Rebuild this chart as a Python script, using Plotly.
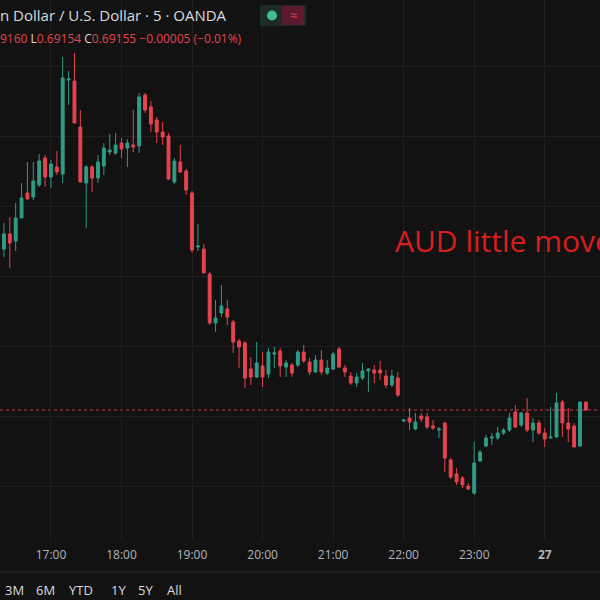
import pandas as pd
import plotly.graph_objects as go

# 5-minute AUD/USD candles, 16:15 -> 00:45
opens = [0.69398, 0.69316, 0.69331, 0.69324, 0.69347, 0.69372, 0.69368, 0.69380, 0.69407, 0.69388,
         0.69398, 0.69391, 0.69485, 0.69484, 0.69438, 0.69382, 0.69398, 0.69387, 0.69399, 0.69413,
         0.69412, 0.69422, 0.69417, 0.69420, 0.69419, 0.69470, 0.69458, 0.69445, 0.69433, 0.69429,
         0.69383, 0.69403, 0.69394, 0.69372, 0.69318, 0.69316, 0.69291, 0.69242, 0.69252, 0.69256,
         0.69243, 0.69224, 0.69222, 0.69196, 0.69188, 0.69199, 0.69191, 0.69211, 0.69214, 0.69198,
         0.69200, 0.69200, 0.69213, 0.69203, 0.69193, 0.69205, 0.69192, 0.69196, 0.69216, 0.69197,
         0.69189, 0.69182, 0.69187, 0.69194, 0.69195, 0.69195, 0.69189, 0.69180, 0.69187, 0.69144,
         0.69147, 0.69136, 0.69149, 0.69148, 0.69139, 0.69135, 0.69142, 0.69105, 0.69091, 0.69087,
         0.69079, 0.69072, 0.69104, 0.69119, 0.69127, 0.69127, 0.69132, 0.69135, 0.69153, 0.69140,
         0.69152, 0.69135, 0.69142, 0.69132, 0.69127, 0.69128, 0.69163, 0.69142, 0.69139, 0.69119,
         0.69163]
highs = [0.69400, 0.69342, 0.69348, 0.69362, 0.69382, 0.69403, 0.69403, 0.69411, 0.69410, 0.69405,
         0.69414, 0.69508, 0.69494, 0.69512, 0.69455, 0.69400, 0.69400, 0.69410, 0.69422, 0.69431,
         0.69432, 0.69427, 0.69426, 0.69455, 0.69472, 0.69472, 0.69464, 0.69448, 0.69443, 0.69432,
         0.69407, 0.69420, 0.69396, 0.69374, 0.69341, 0.69321, 0.69293, 0.69265, 0.69280, 0.69265,
         0.69245, 0.69226, 0.69224, 0.69208, 0.69223, 0.69213, 0.69217, 0.69218, 0.69217, 0.69205,
         0.69202, 0.69215, 0.69220, 0.69207, 0.69210, 0.69215, 0.69205, 0.69213, 0.69218, 0.69200,
         0.69193, 0.69192, 0.69202, 0.69197, 0.69200, 0.69204, 0.69195, 0.69195, 0.69193, 0.69146,
         0.69157, 0.69152, 0.69152, 0.69152, 0.69145, 0.69138, 0.69143, 0.69107, 0.69097, 0.69089,
         0.69082, 0.69123, 0.69115, 0.69130, 0.69132, 0.69138, 0.69137, 0.69152, 0.69160, 0.69153,
         0.69167, 0.69147, 0.69145, 0.69137, 0.69158, 0.69172, 0.69165, 0.69157, 0.69142, 0.69163,
         0.69163]
lows = [0.69310, 0.69308, 0.69297, 0.69314, 0.69347, 0.69366, 0.69365, 0.69378, 0.69378, 0.69377,
        0.69390, 0.69382, 0.69460, 0.69442, 0.69383, 0.69337, 0.69373, 0.69382, 0.69390, 0.69410,
        0.69410, 0.69407, 0.69398, 0.69413, 0.69412, 0.69452, 0.69433, 0.69422, 0.69420, 0.69385,
        0.69381, 0.69392, 0.69370, 0.69312, 0.69314, 0.69292, 0.69240, 0.69233, 0.69248, 0.69240,
        0.69212, 0.69197, 0.69177, 0.69180, 0.69187, 0.69178, 0.69187, 0.69197, 0.69188, 0.69188,
        0.69188, 0.69198, 0.69202, 0.69190, 0.69192, 0.69190, 0.69190, 0.69195, 0.69197, 0.69188,
        0.69180, 0.69178, 0.69185, 0.69173, 0.69182, 0.69185, 0.69177, 0.69178, 0.69168, 0.69143,
        0.69135, 0.69135, 0.69143, 0.69136, 0.69135, 0.69127, 0.69093, 0.69086, 0.69080, 0.69077,
        0.69075, 0.69070, 0.69103, 0.69118, 0.69120, 0.69125, 0.69130, 0.69133, 0.69137, 0.69138,
        0.69133, 0.69123, 0.69130, 0.69118, 0.69127, 0.69127, 0.69128, 0.69123, 0.69118, 0.69118,
        0.69154]
closes = [0.69315, 0.69331, 0.69322, 0.69347, 0.69367, 0.69366, 0.69384, 0.69404, 0.69388, 0.69401,
          0.69393, 0.69487, 0.69486, 0.69442, 0.69383, 0.69398, 0.69387, 0.69403, 0.69417, 0.69415,
          0.69420, 0.69416, 0.69422, 0.69418, 0.69468, 0.69455, 0.69441, 0.69433, 0.69428, 0.69386,
          0.69404, 0.69393, 0.69375, 0.69315, 0.69319, 0.69292, 0.69242, 0.69247, 0.69259, 0.69248,
          0.69223, 0.69218, 0.69187, 0.69188, 0.69202, 0.69188, 0.69213, 0.69212, 0.69199, 0.69202,
          0.69192, 0.69213, 0.69204, 0.69193, 0.69205, 0.69193, 0.69197, 0.69211, 0.69198, 0.69193,
          0.69182, 0.69188, 0.69194, 0.69196, 0.69192, 0.69192, 0.69180, 0.69189, 0.69170, 0.69145,
          0.69143, 0.69143, 0.69146, 0.69138, 0.69137, 0.69136, 0.69107, 0.69088, 0.69083, 0.69080,
          0.69076, 0.69102, 0.69113, 0.69127, 0.69128, 0.69132, 0.69135, 0.69147, 0.69138, 0.69152,
          0.69135, 0.69142, 0.69132, 0.69126, 0.69128, 0.69162, 0.69142, 0.69136, 0.69118, 0.69163,
          0.69155]

times = pd.date_range("2023-06-26 16:15", periods=len(opens), freq="5min")
hour_ticks = pd.date_range("2023-06-26 17:00", "2023-06-27 01:00", freq="1h")
hour_labels = ["17:00", "18:00", "19:00", "20:00", "21:00", "22:00", "23:00", "<b>27</b>", "01:00"]
last_close = closes[-1]

BG = "#121212"
UP = "#2f9c86"
DOWN = "#e5444f"

fig = go.Figure()
fig.add_trace(go.Candlestick(
    x=times, open=opens, high=highs, low=lows, close=closes,
    increasing=dict(line=dict(color=UP, width=1), fillcolor=UP),
    decreasing=dict(line=dict(color=DOWN, width=1), fillcolor=DOWN),
    whiskerwidth=0, showlegend=False, hoverinfo="skip",
))

# last price line
fig.add_hline(y=last_close, line=dict(color="#c23c45", width=1, dash="dot"), layer="below")

fig.update_layout(
    width=600, height=600,
    margin=dict(l=0, r=0, t=0, b=60),
    paper_bgcolor=BG, plot_bgcolor=BG,
    font=dict(family="Open Sans", color="#b2b5be"),
    xaxis=dict(
        range=["2023-06-26 16:16:40", "2023-06-27 00:47"],
        tickvals=hour_ticks, ticktext=hour_labels,
        showgrid=True, gridcolor="#1f1f1f", gridwidth=1,
        rangeslider=dict(visible=False), showline=False, zeroline=False,
        tickfont=dict(size=12, color="#b2b5be"), ticks="", ticklabelstandoff=6,
    ),
    yaxis=dict(
        range=[0.69025, 0.69565],
        tick0=0.69149, dtick=0.0007,
        showgrid=True, gridcolor="#1f1f1f", showticklabels=False, zeroline=False,
    ),
)
fig.add_shape(type="line", xref="paper", yref="paper", x0=0, x1=1, y0=-32 / 540, y1=-32 / 540,
              line=dict(color="#2a2a2a", width=1))

annots = [
    dict(x=-2, y=15, text="n Dollar / U.S. Dollar · 5 · OANDA", size=15, color="#d9dadf"),
    dict(x=-2, y=38, text="9160 <span style='color:#d9dadf'>L</span>0.69154 "
                          "<span style='color:#d9dadf'>C</span>0.69155 −0.00005 (−0.01%)",
         size=12, color="#e5444f"),
    dict(x=393, y=240, text="AUD little move", size=30, color="#d81e1e"),
]
for a in annots:
    fig.add_annotation(x=a["x"] / 600, y=1 - a["y"] / 540, xref="paper", yref="paper",
                       xanchor="left", yanchor="middle", text=a["text"], showarrow=False,
                       font=dict(size=a["size"], color=a["color"]))

# status badge
fig.add_shape(type="rect", xref="paper", yref="paper", x0=260 / 600, x1=306 / 600,
              y0=1 - 26 / 540, y1=1 - 5 / 540, fillcolor="#1e2a27", line=dict(width=0))
fig.add_shape(type="circle", xref="paper", yref="paper", x0=267 / 600, x1=277 / 600,
              y0=1 - 20.5 / 540, y1=1 - 10.5 / 540, fillcolor="#3ebd95", line=dict(width=0))
fig.add_shape(type="rect", xref="paper", yref="paper", x0=282 / 600, x1=304 / 600,
              y0=1 - 25 / 540, y1=1 - 6 / 540, fillcolor="#5a1b2e", line=dict(width=0))
fig.add_annotation(x=293 / 600, y=1 - 15 / 540, xref="paper", yref="paper", text="≈",
                   yanchor="middle", showarrow=False, font=dict(size=13, color="#e5444f"))

# range toolbar
for label, px in zip(["3M", "6M", "YTD", "1Y", "5Y", "All"], [3, 34, 67, 109, 136, 165]):
    fig.add_annotation(x=px / 600, y=-50 / 540, xref="paper", yref="paper", xanchor="left",
                       yanchor="middle", text=label, showarrow=False,
                       font=dict(size=13, color="#d9dadf"))

fig.write_html("out.html", config={"displayModeBar": False},
               post_script="document.body.style.margin='0';")
